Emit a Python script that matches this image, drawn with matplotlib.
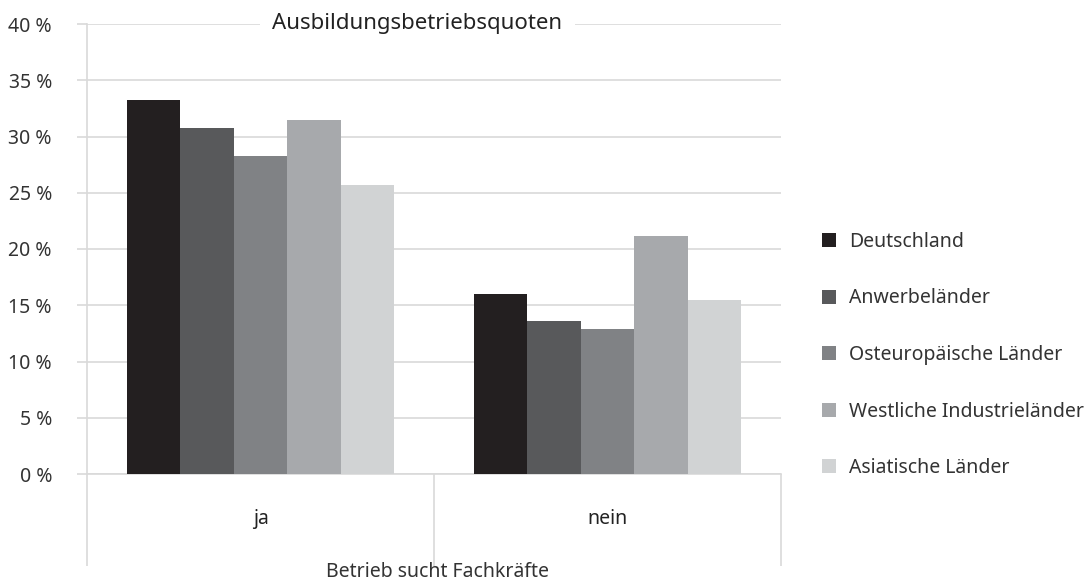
import matplotlib.pyplot as plt
import numpy as np

## DATA
categories = ["ja", "nein"]
series = ["Deutschland", "Anwerbeländer", "Osteuropäische Länder",
          "Westliche Industrieländer", "Asiatische Länder"]
values = [
    [33.2, 16.0],  # Deutschland
    [30.8, 13.6],  # Anwerbeländer
    [28.3, 12.9],  # Osteuropäische Länder
    [31.5, 21.2],  # Westliche Industrieländer
    [25.7, 15.5],  # Asiatische Länder
]
colors = ["#231f20", "#58595b", "#808285", "#a7a9ac", "#d1d3d4"]
yticks = [0, 5, 10, 15, 20, 25, 30, 35, 40]

plt.rcParams["font.family"] = ["Noto Sans", "DejaVu Sans"]
grid_col = "#d9d9d9"
text_col = "#333333"

W, H = 1087, 580
fig = plt.figure(figsize=(W / 100, H / 100), dpi=100)
ax = fig.add_axes([87 / W, (H - 474) / H, (781 - 87) / W, (474 - 24) / H])

## Bars
x = np.arange(len(categories))
bw = 0.154
for i, (name, vals) in enumerate(zip(series, values)):
    ax.bar(x + (i - 2) * bw, vals, bw, color=colors[i], label=name, zorder=3)

ax.set_xlim(-0.5, 1.5)
ax.set_ylim(0, 40)
ax.set_yticks(yticks)
ax.set_yticklabels([f"{t} %" for t in yticks], color=text_col, fontsize=14)
ax.yaxis.grid(True, color=grid_col, linewidth=1.2, zorder=0)
ax.tick_params(axis="y", length=7.2, color=grid_col, width=1.2, pad=18)

## Category axis with separators
ax.set_xticks(x)
ax.set_xticklabels(categories, fontsize=14, color="#222222")
ax.tick_params(axis="x", length=0, pad=25)
ax.set_xticks([-0.5, 0.5, 1.5], minor=True)
ax.tick_params(axis="x", which="minor", length=66, color=grid_col, width=1.2)
fig.text(437 / W, 3 / H, "Betrieb sucht Fachkräfte", ha="center", va="baseline",
         fontsize=14, color=text_col)

for s in ["top", "right"]:
    ax.spines[s].set_visible(False)
ax.spines["left"].set_color(grid_col)
ax.spines["left"].set_linewidth(1.2)
ax.spines["bottom"].set_color(grid_col)
ax.spines["bottom"].set_linewidth(1.2)

## Title sitting on the top gridline
ax.text(0.476, 40, "Ausbildungsbetriebsquoten", transform=ax.get_yaxis_transform(),
        ha="center", va="center", fontsize=16, color="#222222", zorder=5,
        bbox=dict(facecolor="white", edgecolor="none", pad=9))

## Legend
ax.legend(loc="center left", bbox_to_anchor=(804 / W, (H - 355) / H),
          bbox_transform=fig.transFigure, frameon=False, fontsize=14,
          handlelength=0.75, handleheight=0.75, handletextpad=0.65,
          labelspacing=1.88, labelcolor=text_col)

fig.savefig("out.png", dpi=100)
